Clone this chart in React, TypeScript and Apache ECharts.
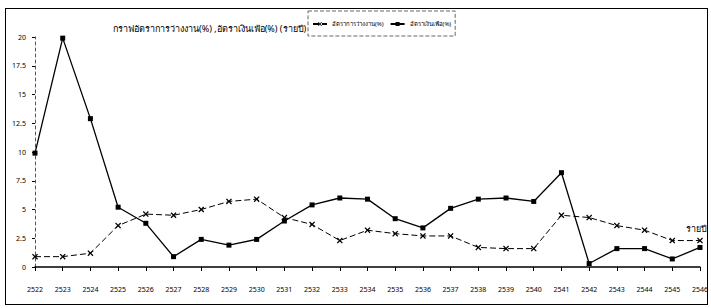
import React, { useEffect, useRef } from "react";
import * as echarts from "echarts";

const years = [
  "2522", "2523", "2524", "2525", "2526", "2527", "2528", "2529", "2530", "2531",
  "2532", "2533", "2534", "2535", "2536", "2537", "2538", "2539", "2540", "2541",
  "2542", "2543", "2544", "2545", "2546",
];
const unemployment = [
  0.9, 0.9, 1.2, 3.6, 4.6, 4.5, 5.0, 5.7, 5.9, 4.3,
  3.7, 2.3, 3.2, 2.9, 2.7, 2.7, 1.7, 1.6, 1.6, 4.5,
  4.3, 3.6, 3.2, 2.3, 2.3,
];
const inflation = [
  9.9, 19.9, 12.9, 5.2, 3.8, 0.9, 2.4, 1.9, 2.4, 4.0,
  5.4, 6.0, 5.9, 4.2, 3.4, 5.1, 5.9, 6.0, 5.7, 8.2,
  0.3, 1.6, 1.6, 0.7, 1.7,
];
const titleText = "กราฟอัตราการว่างงาน(%) ,อัตราเงินเฟ้อ(%) (รายปี)";
const unemploymentName = "อัตราการว่างงาน(%)";
const inflationName = "อัตราเงินเฟ้อ(%)";
const xUnitText = "รายปี";

const FONT = "'Noto Sans', 'DejaVu Sans', sans-serif";
const X_SYMBOL =
  "path://M0,1.5L1.5,0L5,3.5L8.5,0L10,1.5L6.5,5L10,8.5L8.5,10L5,6.5L1.5,10L0,8.5L3.5,5Z";

export default function App() {
  const ref = useRef<HTMLDivElement>(null);
  useEffect(() => {
    if (!ref.current) return;
    const chart = echarts.init(ref.current, undefined, { renderer: "svg" });
    chart.setOption({
      animation: false,
      backgroundColor: "#ffffff",
      textStyle: { fontFamily: FONT, color: "#000" },
      title: {
        text: titleText,
        left: 108,
        top: 19,
        textStyle: { fontSize: 9, fontWeight: "normal", color: "#000", fontFamily: FONT },
      },
      legend: {
        left: 308,
        top: 11,
        padding: [10, 4, 9, 4],
        itemGap: 6,
        itemWidth: 14,
        itemHeight: 5,
        borderColor: "#666",
        borderWidth: 1,
        borderType: "dashed",
        textStyle: { fontSize: 6, color: "#000", fontFamily: FONT },
        data: [unemploymentName, inflationName],
      },
      grid: { left: 35, right: 8, top: 37, bottom: 41, containLabel: false },
      xAxis: {
        type: "category",
        data: years,
        boundaryGap: false,
        axisLine: { lineStyle: { color: "#000", width: 1.5 } },
        axisTick: { show: true, alignWithLabel: true, length: 4, lineStyle: { color: "#000" } },
        axisLabel: { interval: 0, fontSize: 7, color: "#000", margin: 19, fontFamily: FONT },
      },
      yAxis: {
        type: "value",
        min: 0,
        max: 20,
        interval: 2.5,
        axisLine: { show: true, lineStyle: { color: "#555", width: 1, type: [3, 3] } },
        axisTick: { show: true, length: 3, lineStyle: { color: "#000" } },
        splitLine: { show: false },
        axisLabel: { fontSize: 7, color: "#000", margin: 9, fontFamily: FONT },
      },
      graphic: [
        {
          type: "text",
          left: 686,
          top: 224,
          style: { text: xUnitText, fontSize: 9, fill: "#000", fontFamily: FONT },
        },
      ],
      series: [
        {
          name: unemploymentName,
          type: "line",
          data: unemployment,
          symbol: X_SYMBOL,
          symbolSize: 6,
          itemStyle: { color: "#000" },
          lineStyle: { color: "#000", width: 1, type: [6, 3] },
        },
        {
          name: inflationName,
          type: "line",
          data: inflation,
          symbol: "rect",
          symbolSize: 5,
          itemStyle: { color: "#000" },
          lineStyle: { color: "#000", width: 1.3 },
        },
      ],
    });
    return () => chart.dispose();
  }, []);

  return (
    <div style={{ position: "fixed", left: 0, top: 0, width: 711, height: 308, background: "#fff" }}>
      <div ref={ref} style={{ position: "absolute", left: 0, top: 0, width: 711, height: 308 }} />
      <div
        style={{
          position: "absolute",
          left: 5,
          top: 8,
          width: 701,
          height: 295,
          border: "1.5px solid #000",
          pointerEvents: "none",
        }}
      />
    </div>
  );
}
